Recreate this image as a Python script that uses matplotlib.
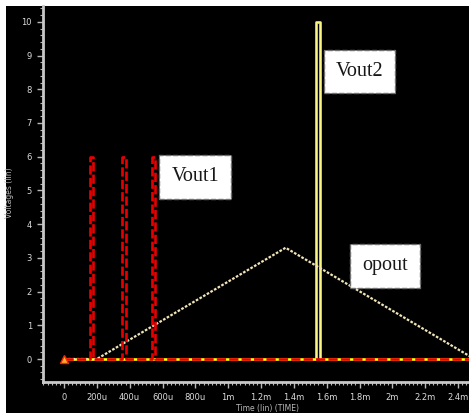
import numpy as np
import matplotlib
matplotlib.use('Agg')
import matplotlib.pyplot as plt
from matplotlib.ticker import MultipleLocator
from matplotlib.patches import Rectangle

# times in ms, voltages in V
t_end = 2.5
vout1_rise = [0.158, 0.355, 0.537]
vout1_fall = [0.175, 0.378, 0.556]
vout1_high = 6.0
vout2_rise = [1.535]
vout2_fall = [1.559]
vout2_high = 10.0
opout_t = [0.0, 0.2, 1.35, 2.5]
opout_v = [0.0, 0.0, 3.3, 0.0]

xticks = [0, 0.2, 0.4, 0.6, 0.8, 1.0, 1.2, 1.4, 1.6, 1.8, 2.0, 2.2, 2.4]
xticklabels = ['0', '200u', '400u', '600u', '800u', '1m', '1.2m', '1.4m',
               '1.6m', '1.8m', '2m', '2.2m', '2.4m']
yticks = list(range(0, 11))

labels = ['Vout1', 'Vout2', 'opout']
label_pos = [(0.80, 5.40), (1.80, 8.52), (1.955, 2.76)]


def pulse_wave(rise, fall, high):
    t = [0.0]
    v = [0.0]
    for r, f in zip(rise, fall):
        t += [r, r, f, f]
        v += [0.0, high, high, 0.0]
    t.append(t_end)
    v.append(0.0)
    return t, v


fig = plt.figure(figsize=(4.69, 4.13), dpi=100, facecolor='white')
# black panel, white strip at top/left
fig.patches.append(Rectangle((6/469, 0), 1, 1 - 6/413, transform=fig.transFigure,
                             facecolor='black', edgecolor='none', zorder=-10))

ax = fig.add_axes([43/469, 31/413, 1 - 43/469, (382-6)/413])
ax.set_facecolor('black')

t2, v2 = pulse_wave(vout2_rise, vout2_fall, vout2_high)
ax.plot(t2, v2, color='#f0e800', lw=2.0, zorder=3)
ax.plot(t2, v2, color='#fffbc0', lw=0.5, zorder=3)

ax.plot(opout_t, opout_v, color='#f0e4b8', lw=1.6, dashes=(1.2, 0.7), zorder=4)

t1, v1 = pulse_wave(vout1_rise, vout1_fall, vout1_high)
ax.plot(t1, v1, color='#e80000', lw=1.9, dashes=(3.5, 1.2), zorder=5)

ax.plot([0], [0], marker='^', ms=6, color='#ffb030', mec='#ff2000', mew=1.0, zorder=6)

ax.set_xlim(-0.128, 2.467)
ax.set_ylim(-0.682, 10.47)

ax.set_xticks(xticks)
ax.set_xticklabels(xticklabels)
ax.set_yticks(yticks)
ax.xaxis.set_minor_locator(MultipleLocator(0.025))
ax.yaxis.set_minor_locator(MultipleLocator(0.2))

ax.tick_params(axis='both', which='major', colors='#b8b8b8', labelcolor='#dcdcdc',
               labelsize=6, length=4, width=1, pad=4)
ax.tick_params(axis='both', which='minor', colors='#b8b8b8', length=2, width=0.8)

for side in ['top', 'right']:
    ax.spines[side].set_visible(False)
for side in ['left', 'bottom']:
    ax.spines[side].set_color('#c8c8c8')
    ax.spines[side].set_linewidth(2)

for lab, (tx, ty) in zip(labels, label_pos):
    ax.text(tx, ty, lab, fontsize=14.5, family='Liberation Serif', color='#181818',
            ha='center', va='center', zorder=8,
            bbox=dict(boxstyle='square,pad=0.6', facecolor='white',
                      edgecolor='#707070', linestyle='--', linewidth=1))

fig.text(10/469, 1 - 193/413, 'Voltages (lin)', rotation=90, color='#b8b8b8',
         fontsize=5.5, ha='center', va='center')
fig.text(268/469, 1 - 408/413, 'Time (lin) (TIME)', color='#b8b8b8',
         fontsize=5.5, ha='center', va='center')

plt.savefig('out.png', dpi=100, facecolor=fig.get_facecolor())
